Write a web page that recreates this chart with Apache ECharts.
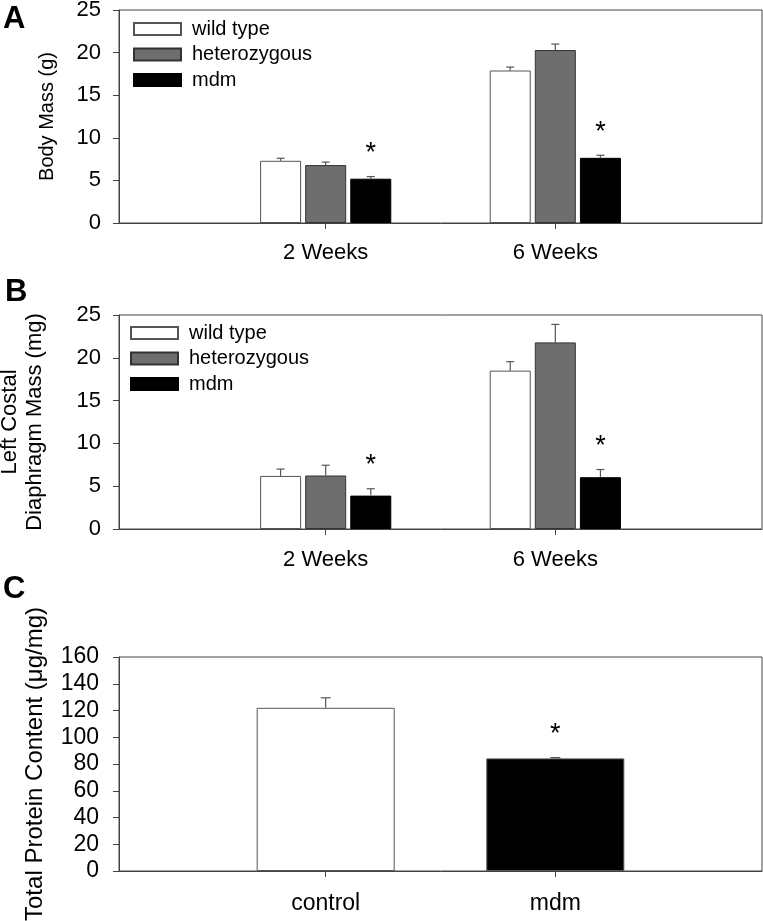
<!DOCTYPE html>
<html>
<head>
<meta charset="utf-8">
<script src="https://cdn.jsdelivr.net/npm/echarts@6/dist/echarts.min.js"></script>
<style>html,body{margin:0;padding:0;background:#fff;}#c{width:763px;height:921px;}</style>
</head>
<body>
<div id="c"></div>
<script>
// ---- data ----
const groups = ['2 Weeks', '6 Weeks'];
const genotypes = ['wild type', 'heterozygous', 'mdm'];

const bodyMassWT = [7.3, 17.9];
const bodyMassWTErr = [0.3, 0.4];
const bodyMassHet = [6.8, 20.3];
const bodyMassHetErr = [0.35, 0.7];
const bodyMassMdm = [5.2, 7.65];
const bodyMassMdmErr = [0.25, 0.3];
const bodyMassMdmSig = [true, true];

const diaWT = [6.2, 18.5];
const diaWTErr = [0.8, 1.05];
const diaHet = [6.25, 21.8];
const diaHetErr = [1.2, 2.1];
const diaMdm = [3.9, 6.05];
const diaMdmErr = [0.8, 0.9];
const diaMdmSig = [true, true];

const proteinCats = ['control', 'mdm'];
const protein = [122, 84.2];
const proteinErr = [7.5, 0.6];
const proteinSig = [false, true];

const massMax = 25, massStep = 5;
const proteinMax = 160, proteinStep = 20;

// ---- styles ----
const FONT = '"Liberation Sans", Arial, Helvetica, sans-serif';
const AX = '#444';
const fills = ['#ffffff', '#6e6e6e', '#000000'];
const borders = ['#555555', '#333333', '#000000'];
const BW = 41, GAPR = 0.1;
const step = BW * (1 + GAPR);

function xAxisFor(grid, labels, fs, margin) {
  return {
    gridIndex: grid, type: 'value', min: 0.1, max: 2.9,
    axisLine: { show: true, lineStyle: { color: AX, width: 1 } },
    axisTick: { show: true, customValues: [1, 2], length: 6, lineStyle: { color: AX } },
    axisLabel: { customValues: [1, 2], formatter: v => labels[Math.round(v) - 1] || '',
      fontSize: fs, color: '#000', fontFamily: FONT, margin: margin },
    splitLine: { show: false }
  };
}
function yAxisFor(grid, max, stepv, name, gap, nameFs, tickFs, margin) {
  return {
    gridIndex: grid, type: 'value', min: 0, max: max, interval: stepv,
    name: name, nameLocation: 'middle', nameGap: gap, nameRotate: 90,
    nameTextStyle: { fontSize: nameFs, color: '#000', fontFamily: FONT, lineHeight: nameFs + 3 },
    axisLine: { show: true, lineStyle: { color: AX, width: 1 } },
    axisTick: { show: true, inside: false, length: 6, lineStyle: { color: AX } },
    axisLabel: { fontSize: tickFs, color: '#000', fontFamily: FONT, margin: margin },
    splitLine: { show: false }
  };
}
function errRenderer(offsetPx, capHalf, sig) {
  return function (params, api) {
    const x = api.value(0), y = api.value(1), e = api.value(2);
    const base = api.coord([x, y]);
    const top = api.coord([x, y + e]);
    const cx = base[0] + offsetPx;
    const children = [
      { type: 'line', shape: { x1: cx, y1: base[1], x2: cx, y2: top[1] }, style: { stroke: '#555', lineWidth: 1.2 } },
      { type: 'line', shape: { x1: cx - capHalf, y1: top[1], x2: cx + capHalf, y2: top[1] }, style: { stroke: '#555', lineWidth: 1.2 } }
    ];
    if (sig && sig[params.dataIndex]) {
      children.push({ type: 'text', x: cx, y: top[1] - 23,
        style: { text: '*', fontSize: 27, fontFamily: FONT, fill: '#000', align: 'center', verticalAlign: 'middle' } });
    }
    return { type: 'group', children: children };
  };
}
function barSeries(name, grid, vals, idx) {
  return {
    name: name, type: 'bar', xAxisIndex: grid, yAxisIndex: grid,
    barWidth: BW, barGap: (GAPR * 100) + '%',
    itemStyle: { color: fills[idx], borderColor: borders[idx], borderWidth: 1 },
    data: vals.map((v, i) => [i + 1, v]), silent: true, z: 2
  };
}
function errSeries(grid, vals, errs, offset, capHalf, sig) {
  return {
    type: 'custom', xAxisIndex: grid, yAxisIndex: grid, z: 5, silent: true,
    encode: { x: 0, y: 1 },
    renderItem: errRenderer(offset, capHalf, sig),
    data: vals.map((v, i) => [i + 1, v, errs[i]])
  };
}

const series = [];
// Panel A
series.push(barSeries(genotypes[0], 0, bodyMassWT, 0));
series.push(barSeries(genotypes[1], 0, bodyMassHet, 1));
series.push(barSeries(genotypes[2], 0, bodyMassMdm, 2));
series.push(errSeries(0, bodyMassWT, bodyMassWTErr, -step, 4, null));
series.push(errSeries(0, bodyMassHet, bodyMassHetErr, 0, 4, null));
series.push(errSeries(0, bodyMassMdm, bodyMassMdmErr, step, 4, bodyMassMdmSig));
// Panel B
series.push(barSeries(genotypes[0], 1, diaWT, 0));
series.push(barSeries(genotypes[1], 1, diaHet, 1));
series.push(barSeries(genotypes[2], 1, diaMdm, 2));
series.push(errSeries(1, diaWT, diaWTErr, -step, 4, null));
series.push(errSeries(1, diaHet, diaHetErr, 0, 4, null));
series.push(errSeries(1, diaMdm, diaMdmErr, step, 4, diaMdmSig));
// Panel C
series.push({
  name: 'protein', type: 'bar', xAxisIndex: 2, yAxisIndex: 2, barWidth: 138, silent: true,
  itemStyle: { color: p => (p.dataIndex === 0 ? fills[0] : fills[2]), borderColor: '#555', borderWidth: 1 },
  data: protein.map((v, i) => [i + 1, v])
});
series.push(errSeries(2, protein, proteinErr, 0, 5, proteinSig));

const legendBase = {
  orient: 'vertical', itemWidth: 47, itemHeight: 12, itemGap: 5.5, selectedMode: false,
  icon: 'rect', data: genotypes, padding: 0,
  textStyle: { fontSize: 20, color: '#000', fontFamily: FONT, padding: [0, 0, 0, 6] }
};

const gridBase = { left: 119, right: 1, show: true, borderColor: AX, borderWidth: 1, outerBoundsMode: 'none', containLabel: false };

const option = {
  animation: false,
  backgroundColor: '#fff',
  grid: [
    Object.assign({}, gridBase, { top: 10, height: 213 }),
    Object.assign({}, gridBase, { top: 315, height: 214 }),
    Object.assign({}, gridBase, { top: 657, height: 214 })
  ],
  xAxis: [xAxisFor(0, groups, 22, 19), xAxisFor(1, groups, 22, 20), xAxisFor(2, proteinCats, 23, 21)],
  yAxis: [
    yAxisFor(0, massMax, massStep, 'Body Mass (g)', 60, 20, 22, 18),
    yAxisFor(1, massMax, massStep, 'Left Costal\nDiaphragm Mass (mg)', 72, 22, 22, 18),
    yAxisFor(2, proteinMax, proteinStep, 'Total Protein Content (\u03bcg/mg)', 70, 24, 23, 20)
  ],
  legend: [
    Object.assign({}, legendBase, { left: 133, top: 19 }),
    Object.assign({}, legendBase, { left: 130, top: 323 })
  ],
  graphic: [
    { type: 'text', left: 3, top: 4, style: { text: 'A', fontSize: 31, fontWeight: 'bold', fontFamily: FONT, fill: '#000' } },
    { type: 'text', left: 5, top: 277, style: { text: 'B', fontSize: 31, fontWeight: 'bold', fontFamily: FONT, fill: '#000' } },
    { type: 'text', left: 3, top: 574, style: { text: 'C', fontSize: 31, fontWeight: 'bold', fontFamily: FONT, fill: '#000' } }
  ],
  series: series
};

const chart = echarts.init(document.getElementById('c'), null, { renderer: 'canvas' });
chart.setOption(option);
</script>
</body>
</html>
